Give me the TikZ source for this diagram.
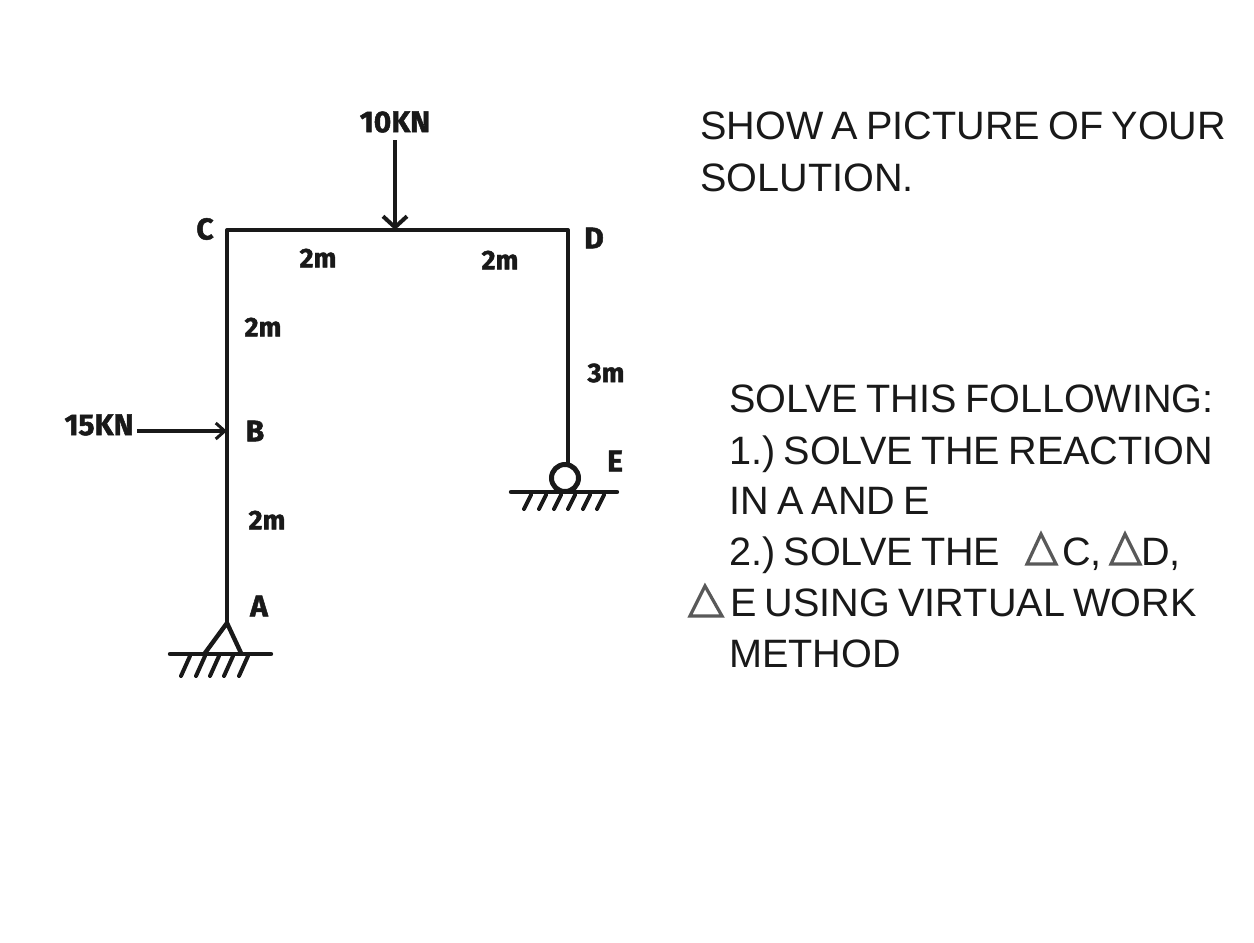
\documentclass[tikz,border=0pt]{standalone}
\usepackage{fontspec}
\setmainfont[WordSpace=0.75]{Liberation Sans}
\newfontfamily\handfont[FakeBold=1.6]{Fira Sans}
\frenchspacing
\usetikzlibrary{arrows.meta}
\tikzset{
  member/.style={line width=4pt,black!90,line cap=round},
  load/.style={line width=4.4pt,black!90,-{Straight Barb[length=11pt,width=24pt,line width=4pt]}},
  loadthin/.style={line width=3.2pt,black!90,-{Straight Barb[length=9pt,width=16pt,line width=3pt]}},
  ground/.style={line width=4.4pt,black!90,line cap=round},
  hatch/.style={line width=4pt,black!90,line cap=round},
  hand/.style={font=\handfont\bfseries\fontsize{30}{30}\selectfont,black!90,inner sep=0pt},
  handsmall/.style={font=\handfont\bfseries\fontsize{27}{27}\selectfont,black!90,inner sep=0pt},
  body/.style={anchor=base west,font=\fontsize{39.6}{39.6}\selectfont,black!90,inner sep=0pt},
  deltamark/.style={draw=black!65,line width=3.2pt,line join=miter,fill=white}
}
\begin{document}
\begin{tikzpicture}[x=1pt,y=-1pt]
\useasboundingbox (0,0) rectangle (1254,943);
\fill[white] (0,0) rectangle (1254,943);
% frame
\coordinate (A) at (227,623);
\coordinate (B) at (227,431);
\coordinate (C) at (227,230);
\coordinate (M) at (395,230);
\coordinate (D) at (568,230);
\coordinate (Etop) at (568,465);
\draw[member,line join=round] (A) -- (B) -- (C) -- (M) -- (D) -- (Etop);
% loads
\coordinate (loadtop) at (395,140);
\coordinate (loadleft) at (137,431);
\draw[load] (loadtop) -- (M);
\draw[loadthin] (loadleft) -- (B);
% pin support at A
\coordinate (Al) at (205,653);
\coordinate (Ar) at (241,653);
\draw[ground,line join=round] (Al) -- (A) -- (Ar);
\draw[ground] (170,654) -- (271,654);
\foreach \x in {190,205,219,233,248}
  \draw[hatch] (\x,656) -- (\x-9,676);
% roller support at E
\node[draw,circle,line width=5pt,black!90,minimum size=27pt,inner sep=0pt,fill=white] (roller) at (565,478) {};
\draw[ground] (511,492) -- (617,492);
\foreach \x in {531,546,561,575,590,604}
  \draw[hatch] (\x,495) -- (\x-7,509);
% handwritten labels
\node[hand] (l10) at (395,122) {10KN};
\node[hand] (l15) at (99,425) {15KN};
\node[hand] (lC) at (205,229) {C};
\node[hand] (lD) at (594,238) {D};
\node[hand] (lB) at (255,431) {B};
\node[hand] (lA) at (259,606) {A};
\node[hand] (lE) at (615,461) {E};
\node[handsmall] (m1) at (318,258) {2m};
\node[handsmall] (m2) at (500,260) {2m};
\node[handsmall] (m3) at (263,327) {2m};
\node[handsmall] (m4) at (267,520) {2m};
\node[handsmall] (m5) at (606,373) {3m};
% instructions
\node[body] (t1) at (700,139) {SHOW A PICTURE OF YOUR};
\node[body] (t2) at (700,191) {SOLUTION.};
\node[body] (t3) at (729,412) {SOLVE THIS FOLLOWING:};
\node[body] (t4) at (729,464) {1.) SOLVE THE REACTION};
\node[body] (t5) at (729,514) {IN A AND E};
\node[body] (t6) at (729,565) {2.) SOLVE THE};
\node[body] (t7) at (1062,565) {C,};
\node[body] (t8) at (1141,565) {D,};
\node[body] (t9) at (730,616) {E USING VIRTUAL WORK};
\node[body] (t10) at (729,667) {METHOD};
% delta glyphs
\draw[deltamark] (1027,564) -- (1041,534) -- (1056,564) -- cycle;
\draw[deltamark] (1111,564) -- (1125,534) -- (1140,564) -- cycle;
\draw[deltamark] (690,616) -- (705,586) -- (722,616) -- cycle;
\end{tikzpicture}
\end{document}
